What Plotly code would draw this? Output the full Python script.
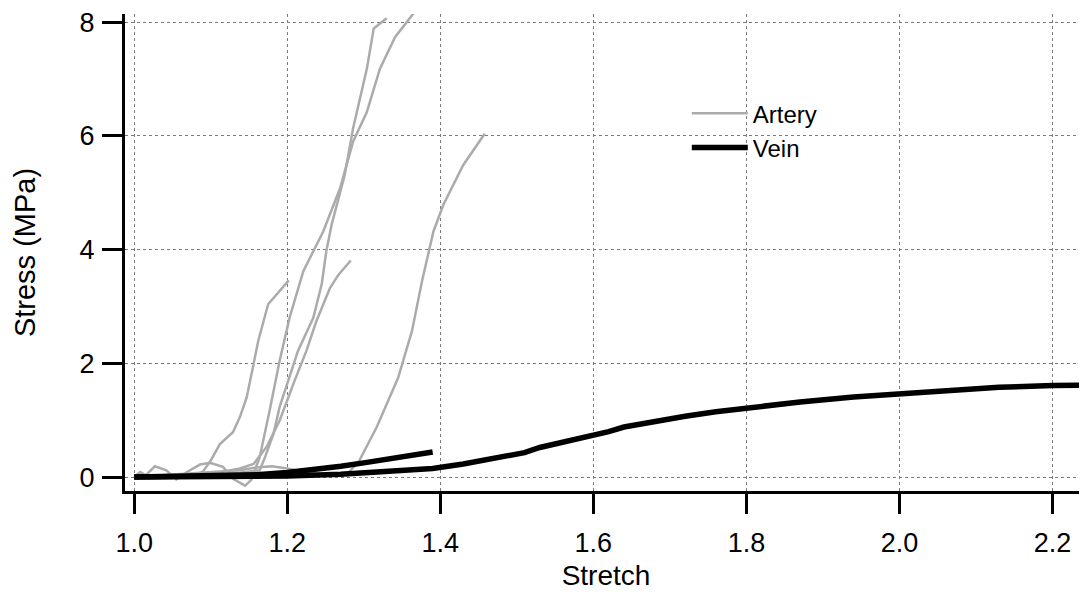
import plotly.graph_objects as go

# ---- data ----
artery_a1_x = [1.000, 1.030, 1.060, 1.080, 1.090, 1.100, 1.112, 1.129, 1.138, 1.147, 1.156, 1.162, 1.175, 1.202]
artery_a1_y = [0.00, 0.03, 0.00, 0.03, 0.10, 0.29, 0.58, 0.79, 1.05, 1.40, 1.99, 2.39, 3.04, 3.46]

artery_a2_x = [1.000, 1.050, 1.100, 1.138, 1.156, 1.173, 1.190, 1.208, 1.225, 1.238, 1.256, 1.267, 1.283]
artery_a2_y = [0.00, 0.02, 0.05, 0.15, 0.23, 0.53, 0.99, 1.64, 2.22, 2.74, 3.33, 3.56, 3.81]

artery_b_x = [1.000, 1.050, 1.100, 1.140, 1.164, 1.171, 1.182, 1.190, 1.214, 1.234, 1.245, 1.251, 1.258, 1.275, 1.286, 1.304, 1.313, 1.330]
artery_b_y = [0.00, 0.02, 0.04, 0.08, 0.12, 0.35, 0.76, 1.23, 2.22, 2.80, 3.39, 3.97, 4.44, 5.31, 6.13, 7.18, 7.89, 8.07]

artery_c_x = [1.000, 1.008, 1.015, 1.027, 1.042, 1.055, 1.069, 1.086, 1.099, 1.116, 1.129, 1.145, 1.153,
              1.164, 1.177, 1.190, 1.203, 1.221, 1.247, 1.269, 1.286, 1.304, 1.321, 1.341, 1.367]
artery_c_y = [0.00, 0.09, 0.03, 0.19, 0.12, -0.04, 0.09, 0.22, 0.25, 0.18, -0.03, -0.15, -0.05,
              0.35, 1.17, 2.04, 2.80, 3.62, 4.32, 5.08, 5.90, 6.42, 7.18, 7.74, 8.19]

artery_d_x = [1.000, 1.050, 1.100, 1.138, 1.160, 1.180, 1.200, 1.220, 1.250, 1.270, 1.280, 1.293, 1.317,
              1.345, 1.363, 1.376, 1.391, 1.404, 1.430, 1.458]
artery_d_y = [0.00, 0.04, 0.08, 0.12, 0.17, 0.19, 0.15, 0.10, 0.04, 0.03, 0.08, 0.26, 0.88,
              1.75, 2.57, 3.44, 4.32, 4.79, 5.49, 6.04]

vein_1_x = [1.00, 1.10, 1.20, 1.27, 1.33, 1.39, 1.43, 1.47, 1.51, 1.53, 1.56, 1.60, 1.62, 1.64, 1.68,
            1.72, 1.76, 1.80, 1.87, 1.94, 2.00, 2.07, 2.13, 2.20, 2.25]
vein_1_y = [0.00, 0.00, 0.02, 0.05, 0.09, 0.15, 0.23, 0.32, 0.43, 0.52, 0.61, 0.72, 0.80, 0.88, 0.98,
            1.07, 1.15, 1.22, 1.32, 1.41, 1.47, 1.53, 1.58, 1.61, 1.62]

vein_2_x = [1.00, 1.10, 1.16, 1.20, 1.24, 1.27, 1.30, 1.33, 1.36, 1.39]
vein_2_y = [0.00, 0.01, 0.04, 0.08, 0.13, 0.19, 0.25, 0.31, 0.38, 0.44]

artery_series = [
    (artery_a1_x, artery_a1_y),
    (artery_a2_x, artery_a2_y),
    (artery_b_x, artery_b_y),
    (artery_c_x, artery_c_y),
    (artery_d_x, artery_d_y),
]
vein_series = [(vein_1_x, vein_1_y), (vein_2_x, vein_2_y)]

x_ticks = [1.0, 1.2, 1.4, 1.6, 1.8, 2.0, 2.2]
x_tick_labels = ["1.0", "1.2", "1.4", "1.6", "1.8", "2.0", "2.2"]
y_ticks = [0, 2, 4, 6, 8]
y_tick_labels = ["0", "2", "4", "6", "8"]

ARTERY_COLOR = "#ababab"
VEIN_COLOR = "#000000"
FONT = "Arial, Liberation Sans, sans-serif"

fig = go.Figure()
for i, (xs, ys) in enumerate(artery_series):
    fig.add_trace(go.Scatter(
        x=xs, y=ys, mode="lines", name="Artery",
        legendgroup="artery", showlegend=(i == 0),
        line=dict(color=ARTERY_COLOR, width=2.5),
    ))
for i, (xs, ys) in enumerate(vein_series):
    fig.add_trace(go.Scatter(
        x=xs, y=ys, mode="lines", name="Vein",
        legendgroup="vein", showlegend=(i == 0),
        line=dict(color=VEIN_COLOR, width=5.5),
    ))

axis_common = dict(
    showline=True, linecolor="black", linewidth=3, mirror=False,
    ticks="outside", ticklen=20, tickwidth=3, tickcolor="black",
    showgrid=True, gridcolor="#7a7a7a", gridwidth=1, griddash="3px,3px",
    zeroline=False, ticklabeloverflow="allow",
    tickfont=dict(family=FONT, size=27, color="black"),
)

# the page body adds an 8px offset, so the figure is sized to the remaining window
fig.update_layout(
    width=1079, height=586,
    margin=dict(l=117, r=0, t=4, b=103),
    paper_bgcolor="white", plot_bgcolor="white",
    font=dict(family=FONT, color="black"),
    showlegend=True,
    legend=dict(
        x=0.584, y=0.838, xanchor="left", yanchor="top",
        bgcolor="rgba(0,0,0,0)", borderwidth=0,
        font=dict(family=FONT, size=24, color="black"),
        tracegroupgap=0, itemwidth=56,
    ),
    xaxis=dict(
        range=[0.988, 2.245],
        tickvals=x_ticks, ticktext=x_tick_labels,
        ticklabelstandoff=6,
        title=dict(text="Stretch", font=dict(family=FONT, size=28, color="black"), standoff=8),
        **axis_common,
    ),
    yaxis=dict(
        range=[-0.245, 8.145],
        tickvals=y_ticks, ticktext=y_tick_labels,
        ticklabelstandoff=2,
        title=dict(text="Stress (MPa)", font=dict(family=FONT, size=29, color="black"), standoff=36),
        **axis_common,
    ),
)

fig.write_html("out.html")
